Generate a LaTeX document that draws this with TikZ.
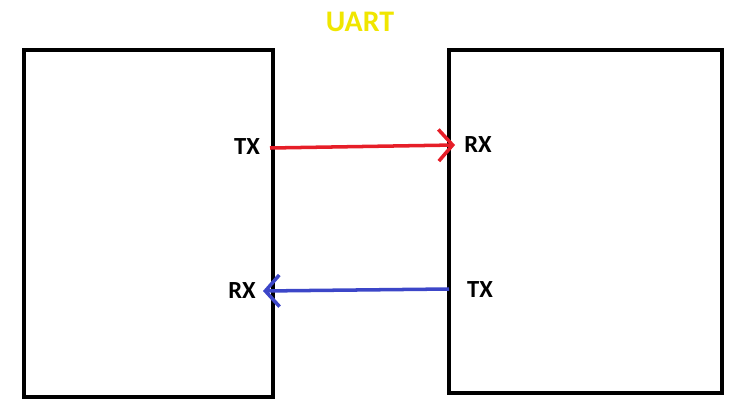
\documentclass[tikz,border=0pt]{standalone}
\usepackage{fontspec}
\setmainfont{Carlito}
\usetikzlibrary{arrows.meta}
\definecolor{uartyellow}{RGB}{240,230,0}
\definecolor{txred}{RGB}{230,30,40}
\definecolor{rxblue}{RGB}{60,70,200}
\tikzset{
  device/.style={draw, line width=2pt},
  pin/.style={font=\bfseries\fontsize{14}{16}\selectfont},
  wire/.style={line width=2pt, -{Straight Barb[length=8pt,width=18pt,line width=2pt]}},
}
\begin{document}
\begin{tikzpicture}[x=0.02cm,y=-0.02cm]
	\useasboundingbox (0,0) rectangle (750,419);
	\draw[device] (24,50) rectangle (273,397);
	\draw[device] (449,50) rectangle (722,393);
	\node[font=\bfseries\fontsize{17}{20}\selectfont, text=uartyellow] (title) at (360,22) {UART};
	\node[pin] (txA) at (247,147) {TX};
	\node[pin] (rxB) at (478,145) {RX};
	\node[pin] (rxA) at (242,291) {RX};
	\node[pin] (txB) at (480,290) {TX};
	\coordinate (outA) at (270,148);
	\coordinate (inB) at (455,145);
	\coordinate (outB) at (449,289);
	\coordinate (inA) at (263,291);
	\draw[wire, txred] (outA) -- (inB);
	\draw[wire, rxblue] (outB) -- (inA);
\end{tikzpicture}
\end{document}
